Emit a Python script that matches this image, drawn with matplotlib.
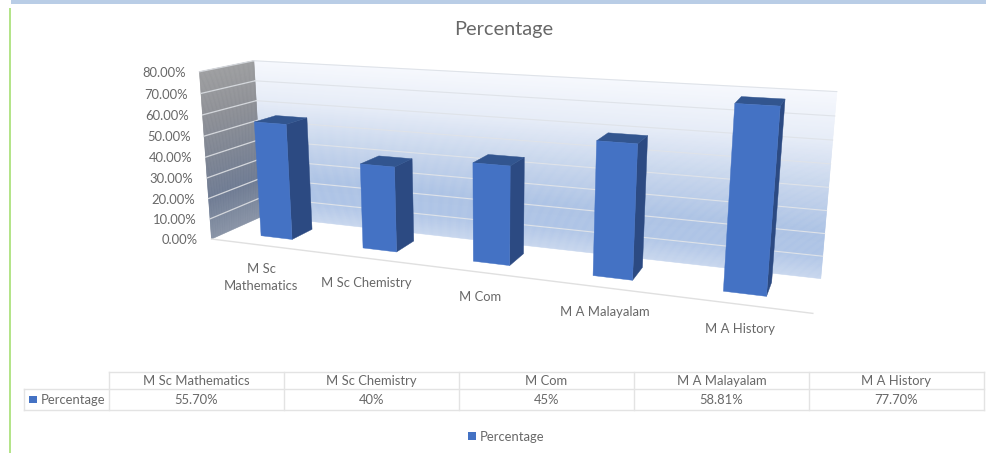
import numpy as np
import matplotlib
matplotlib.use("Agg")
import matplotlib.pyplot as plt
from matplotlib.colors import LinearSegmentedColormap
from matplotlib.collections import PolyCollection
from matplotlib.patches import Polygon, Rectangle

categories = ["M Sc Mathematics", "M Sc Chemistry", "M Com", "M A Malayalam", "M A History"]
axis_labels = ["M Sc\nMathematics", "M Sc Chemistry", "M Com", "M A Malayalam", "M A History"]
values = [55.70, 40.0, 45.0, 58.81, 77.70]
table_values = ["55.70%", "40%", "45%", "58.81%", "77.70%"]
value_ticks = [0, 10, 20, 30, 40, 50, 60, 70, 80]
series_name = "Percentage"

plt.rcParams["font.family"] = ["Lato", "DejaVu Sans"]
TEXT = "#686868"
FS = 9.4

# camera calibration: plot box corners (x 0-1, value 0-80, depth 0-1) -> pixels
box = np.array([[0, 0, 0], [0, 80, 0], [0, 80, 1], [0, 0, 1], [1, 80, 1], [1, 0, 1], [1, 0, 0]], float)
pix = np.array([[212.7, 238.3], [198.3, 71.7], [255, 60.7], [261.7, 216.7],
                [836.7, 91.7], [821, 277.7], [812.7, 314.3]])
A = []
for (X, Y, Z), (u, v) in zip(box, pix):
    A.append([X, Y, Z, 1, 0, 0, 0, 0, -u * X, -u * Y, -u * Z, -u])
    A.append([0, 0, 0, 0, X, Y, Z, 1, -v * X, -v * Y, -v * Z, -v])
P = np.linalg.svd(np.array(A))[2][-1].reshape(3, 4)


def proj(x, y, z):
    h = P @ np.array([x, y, z, 1.0])
    return h[0] / h[2], h[1] / h[2]


fig = plt.figure(figsize=(9.86, 4.53), dpi=100, facecolor="white")
ax = fig.add_axes([0, 0, 1, 1])
ax.set_xlim(0, 986)
ax.set_ylim(453, 0)
ax.axis("off")

# page decoration
ax.add_patch(Rectangle((11, 0), 975, 4.3, fc="#b9cde6", ec="none"))
ax.add_patch(Rectangle((9.2, 8), 2, 445, fc="#b4e48a", ec="none"))

ax.text(503.5, 29, series_name, ha="center", va="center", fontsize=14.4, color=TEXT)

# walls with gradient
back_cm = LinearSegmentedColormap.from_list(
    "b", [(0, "#c8d7ee"), (0.14, "#aec4e6"), (0.27, "#adc3e5"), (0.5, "#c6d5ec"), (0.75, "#e6ecf7"), (1, "#f6f8fd")])
side_cm = LinearSegmentedColormap.from_list(
    "s", [(0, "#8893a6"), (0.25, "#6d7a92"), (0.5, "#7d8492"), (0.75, "#8d8f95"), (1, "#9c9d9f")])
N = 160
levels = np.linspace(0, 80, N + 1)
back = [[proj(0, a, 1), proj(1, a, 1), proj(1, b, 1), proj(0, b, 1)] for a, b in zip(levels[:-1], levels[1:])]
side = [[proj(0, a, 0), proj(0, a, 1), proj(0, b, 1), proj(0, b, 0)] for a, b in zip(levels[:-1], levels[1:])]
mid = (levels[:-1] + levels[1:]) / 160
for polys, cm in ((back, back_cm), (side, side_cm)):
    cols = cm(mid)
    ax.add_collection(PolyCollection(polys, facecolors=cols, edgecolors=cols, linewidths=0.4, zorder=2))

# gridlines and value labels
for t in value_ticks:
    p0, p1, p2 = proj(0, t, 0), proj(0, t, 1), proj(1, t, 1)
    if t > 0:
        ax.plot([p0[0], p1[0]], [p0[1], p1[1]], color="#d4d7dc", lw=0.9, zorder=3)
        ax.plot([p1[0], p2[0]], [p1[1], p2[1]], color="#dfe3e9", lw=0.8, zorder=3)
    ax.text(p0[0] - 13.5, p0[1] + 1.2, f"{t:.2f}%", ha="right", va="center", fontsize=FS, color=TEXT)
f0, f1 = proj(0, 0, 0), proj(1, 0, 0)
ax.plot([f0[0], f1[0]], [f0[1], f1[1]], color="#e0e0e0", lw=1.0, zorder=3)

# bars
BAR_W = 0.0625
Z0, Z1 = 0.3, 0.72
FRONT, SIDE, TOP = "#4472c4", "#2c4a82", "#32558f"
n = len(values)
for i, v in enumerate(values):
    c = (i + 0.5) / n
    xl, xr = c - BAR_W / 2, c + BAR_W / 2
    z = 4 + i
    ax.add_patch(Polygon([proj(xr, 0, Z0), proj(xr, 0, Z1), proj(xr, v, Z1), proj(xr, v, Z0)], fc=SIDE, ec=SIDE, lw=0.3, zorder=z))
    ax.add_patch(Polygon([proj(xl, v, Z0), proj(xr, v, Z0), proj(xr, v, Z1), proj(xl, v, Z1)], fc=TOP, ec=TOP, lw=0.3, zorder=z))
    ax.add_patch(Polygon([proj(xl, 0, Z0), proj(xr, 0, Z0), proj(xr, v, Z0), proj(xl, v, Z0)], fc=FRONT, ec=FRONT, lw=0.3, zorder=z))
    u, w = proj(c, 0, 0)
    off = 32.5 if "\n" in axis_labels[i] else 24.5
    ax.text(u, w + off, axis_labels[i], ha="center", va="center", fontsize=FS, color=TEXT, linespacing=1.45, zorder=20)

# data table
col_x = np.linspace(108.7, 984, n + 1)
rows_y = [371.7, 389.3, 410.3]
LINE = "#e3e3e3"
ax.plot([col_x[0], col_x[-1]], [rows_y[0]] * 2, color=LINE, lw=1)
ax.plot([24.3, col_x[-1]], [rows_y[1]] * 2, color=LINE, lw=1)
ax.plot([24.3, col_x[-1]], [rows_y[2]] * 2, color=LINE, lw=1)
ax.plot([24.3, 24.3], rows_y[1:], color=LINE, lw=1)
for x in col_x:
    ax.plot([x, x], [rows_y[0], rows_y[2]], color=LINE, lw=1)
for i in range(n):
    cx = (col_x[i] + col_x[i + 1]) / 2
    ax.text(cx, 381, categories[i], ha="center", va="center", fontsize=FS, color=TEXT)
    ax.text(cx, 400.5, table_values[i], ha="center", va="center", fontsize=FS, color=TEXT)
ax.add_patch(Rectangle((29.3, 395.8), 7.5, 7.5, fc=FRONT, ec="none"))
ax.text(41, 400.5, series_name, ha="left", va="center", fontsize=FS, color=TEXT)

# legend
ax.add_patch(Rectangle((468.3, 432.3), 7.5, 7.5, fc=FRONT, ec="none"))
ax.text(480, 436.7, series_name, ha="left", va="center", fontsize=FS, color=TEXT)

fig.savefig("out.png", dpi=100)
